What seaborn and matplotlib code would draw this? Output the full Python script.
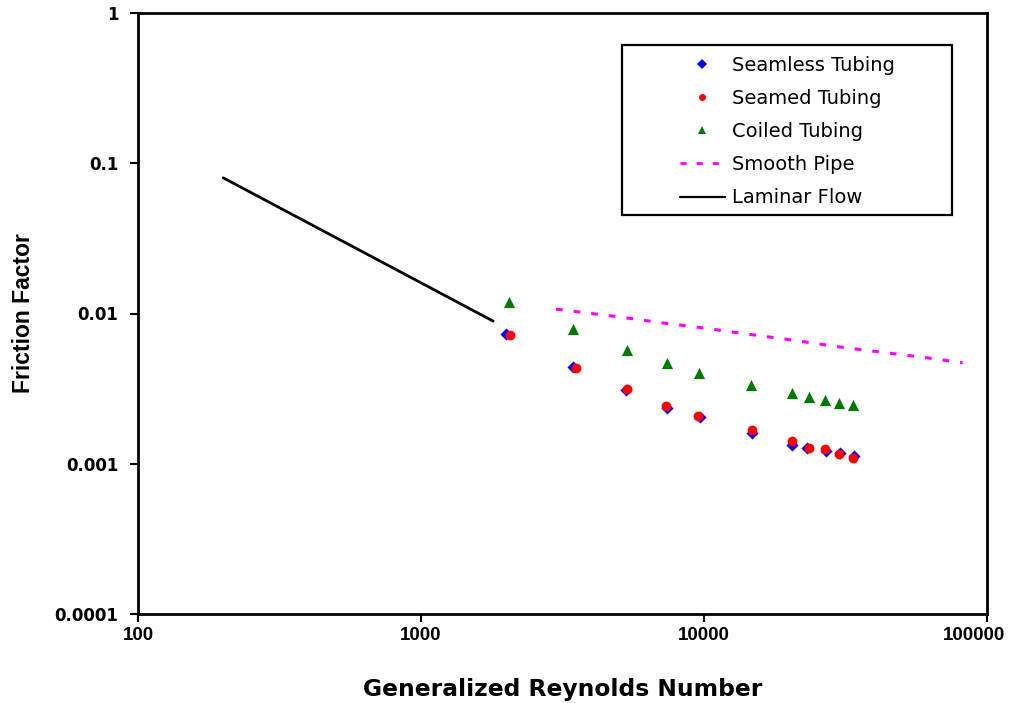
import numpy as np
import pandas as pd
import matplotlib
matplotlib.use("Agg")
import matplotlib.pyplot as plt
import matplotlib.ticker as mticker
import matplotlib.transforms as mtransforms
from matplotlib.lines import Line2D
from matplotlib.patches import Rectangle
import seaborn as sns

# Measured friction factors versus generalized Reynolds number
seamless_re = [1997, 3436, 5288, 7384, 9680, 14780, 20460, 23180, 26910, 30270, 33970]
seamless_f = [0.00732, 0.00443, 0.00310, 0.00235, 0.00204, 0.00161, 0.00134, 0.00127, 0.00121, 0.00118, 0.00112]

seamed_re = [2061, 3521, 5343, 7330, 9526, 14780, 20400, 23440, 26780, 29990, 33700]
seamed_f = [0.00716, 0.00437, 0.00313, 0.00244, 0.00208, 0.00168, 0.00141, 0.00128, 0.00125, 0.00117, 0.00110]

coiled_re = [2046, 3444, 5333, 7384, 9597, 14620, 20400, 23440, 26780, 29930, 33520]
coiled_f = [0.01184, 0.00791, 0.00573, 0.00471, 0.00402, 0.00336, 0.00296, 0.00280, 0.00266, 0.00254, 0.00246]

# Reference curves
smooth_re = [3000, 4000, 5000, 7000, 10000, 15000, 20000, 30000, 40000, 60000, 82000]
smooth_f = [0.0107, 0.0100, 0.0095, 0.0087, 0.0080, 0.0072, 0.0067, 0.0060, 0.0056, 0.0051, 0.0047]

laminar_re = [200, 1800]
laminar_f = [0.080, 0.00889]

x_ticks = [100, 1000, 10000, 100000]
y_ticks = [0.0001, 0.001, 0.01, 0.1, 1]
x_tick_labels = ["100", "1000", "10000", "100000"]
y_tick_labels = ["0.0001", "0.001", "0.01", "0.1", "1"]

sns.set_style("white")
plt.rcParams["font.family"] = ["Liberation Sans", "DejaVu Sans"]
plt.rcParams.update({"text.color": "black", "axes.labelcolor": "black",
                     "xtick.color": "black", "ytick.color": "black"})

fig = plt.figure(figsize=(10.24, 7.03), dpi=100)
ax = fig.add_axes([138 / 1024, 89 / 703, 849 / 1024, 601 / 703])

lam = pd.DataFrame({"Re": laminar_re, "f": laminar_f})
smo = pd.DataFrame({"Re": smooth_re, "f": smooth_f})
sns.lineplot(data=lam, x="Re", y="f", ax=ax, color="black", lw=2, sort=False)
sns.lineplot(data=smo, x="Re", y="f", ax=ax, color="#ff00ff", lw=2.2,
             linestyle=(0, (2.2, 3.6)), sort=False)

sns.scatterplot(x=coiled_re, y=coiled_f, ax=ax, marker="^", color="#007a00",
                s=65, linewidth=0, zorder=3)
sns.scatterplot(x=seamless_re, y=seamless_f, ax=ax, marker="D", color="#0000ff",
                s=38, linewidth=0, zorder=3)
sns.scatterplot(x=seamed_re, y=seamed_f, ax=ax, marker="o", color="#ff0000",
                s=50, linewidth=0, zorder=4)

ax.set_xscale("log")
ax.set_yscale("log")
ax.set_xlim(100, 100000)
ax.set_ylim(0.0001, 1)
ax.xaxis.set_major_locator(mticker.FixedLocator(x_ticks))
ax.yaxis.set_major_locator(mticker.FixedLocator(y_ticks))
ax.xaxis.set_major_formatter(mticker.FixedFormatter(x_tick_labels))
ax.yaxis.set_major_formatter(mticker.FixedFormatter(y_tick_labels))
ax.xaxis.set_minor_locator(mticker.NullLocator())
ax.yaxis.set_minor_locator(mticker.NullLocator())

for side in ["left", "bottom", "top", "right"]:
    ax.spines[side].set_visible(True)
    ax.spines[side].set_color("black")
    ax.spines[side].set_linewidth(2)

ax.tick_params(axis="both", which="major", direction="out", length=6, width=1.5,
               color="black", labelcolor="black",
               bottom=True, left=True, top=False, right=False)
ax.tick_params(axis="y", pad=8)
ax.tick_params(axis="x", pad=3.5)
for lbl in ax.get_xticklabels():
    lbl.set_fontweight("bold")
    lbl.set_fontsize(13.5)
for lbl in ax.get_yticklabels():
    lbl.set_fontweight("bold")
    lbl.set_fontsize(12)
    lbl.set_family("DejaVu Sans")

ax.set_xlabel("Generalized Reynolds Number", fontsize=16.8, fontweight="bold",
              family="DejaVu Sans", labelpad=24)
ax.set_ylabel("Friction Factor", fontsize=16.5, fontweight="bold", labelpad=14)

handles = [
    Line2D([], [], marker="D", color="#0000ff", linestyle="none", markersize=5, markeredgewidth=0),
    Line2D([], [], marker="o", color="#ff0000", linestyle="none", markersize=5, markeredgewidth=0),
    Line2D([], [], marker="^", color="#007a00", linestyle="none", markersize=6, markeredgewidth=0),
    Line2D([], [], color="#ff00ff", lw=2, linestyle=(0, (2.2, 3.6))),
    Line2D([], [], color="black", lw=1.6),
]
labels = ["Seamless Tubing", "Seamed Tubing", "Coiled Tubing", "Smooth Pipe", "Laminar Flow"]
leg = ax.legend(handles, labels, loc="upper left", bbox_to_anchor=(0.6384, 0.929),
                frameon=False, handlelength=2.3, handletextpad=0.36,
                labelspacing=0.73, borderaxespad=0, borderpad=0,
                prop={"family": "DejaVu Sans", "size": 14})

ax.add_patch(Rectangle((0.570, 0.664), 0.389, 0.283, transform=ax.transAxes,
                       fill=False, edgecolor="black", lw=1.6, zorder=5))

# keep the rightmost x tick label inside the figure edge
fig.canvas.draw()
last = ax.xaxis.get_major_ticks()[-1].label1
last.set_transform(last.get_transform() +
                   mtransforms.ScaledTranslation(-0.13, 0, fig.dpi_scale_trans))

fig.savefig("out.png", dpi=100)
